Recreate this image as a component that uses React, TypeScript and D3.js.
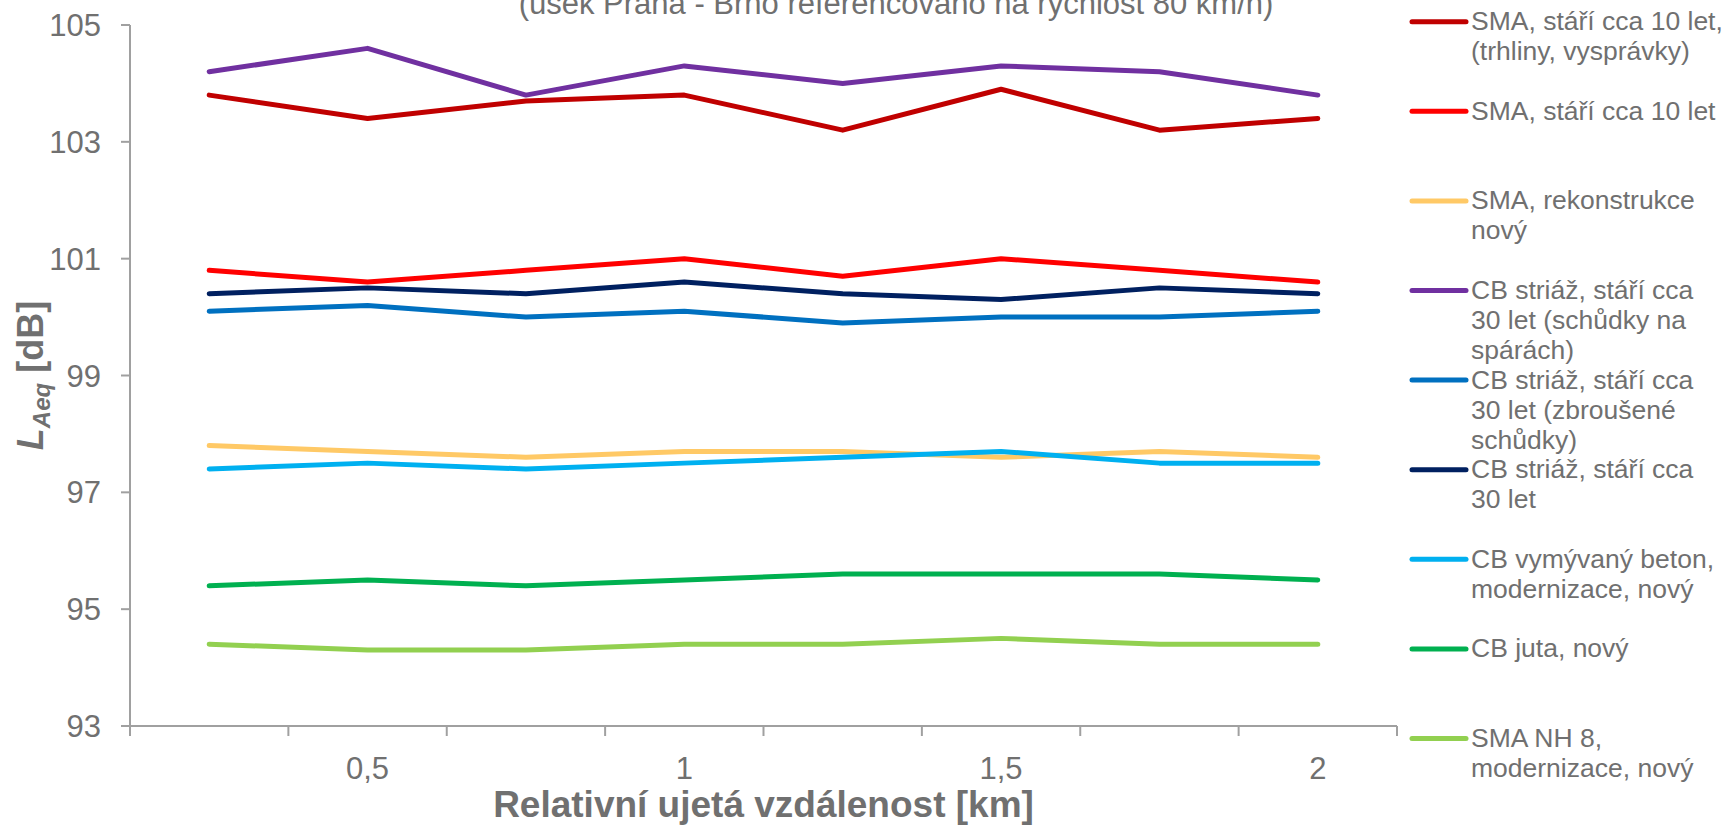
import React from "react";
import * as d3 from "d3";

const categories = ["0,25", "0,5", "0,75", "1", "1,25", "1,5", "1,75", "2"];
const shownLabels = ["0,5", "1", "1,5", "2"];
const yTicks = [93, 95, 97, 99, 101, 103, 105];

const seriesNames: string[][] = [
  ["SMA, stáří cca 10 let,", "(trhliny, vysprávky)"],
  ["SMA, stáří cca 10 let"],
  ["SMA, rekonstrukce", "nový"],
  ["CB striáž, stáří cca", "30 let (schůdky na", "spárách)"],
  ["CB striáž, stáří cca", "30 let (zbroušené", "schůdky)"],
  ["CB striáž, stáří cca", "30 let"],
  ["CB vymývaný beton,", "modernizace, nový"],
  ["CB juta, nový"],
  ["SMA NH 8,", "modernizace, nový"],
];

const seriesColors = [
  "#C00000",
  "#FF0000",
  "#FFC966",
  "#7030A0",
  "#0070C0",
  "#002060",
  "#00B0F0",
  "#00B050",
  "#92D050",
];

const smaOld = [103.8, 103.4, 103.7, 103.8, 103.2, 103.9, 103.2, 103.4];
const smaTen = [100.8, 100.6, 100.8, 101.0, 100.7, 101.0, 100.8, 100.6];
const smaRecon = [97.8, 97.7, 97.6, 97.7, 97.7, 97.6, 97.7, 97.6];
const cbSchudky = [104.2, 104.6, 103.8, 104.3, 104.0, 104.3, 104.2, 103.8];
const cbZbrousene = [100.1, 100.2, 100.0, 100.1, 99.9, 100.0, 100.0, 100.1];
const cbThirty = [100.4, 100.5, 100.4, 100.6, 100.4, 100.3, 100.5, 100.4];
const cbVymyvany = [97.4, 97.5, 97.4, 97.5, 97.6, 97.7, 97.5, 97.5];
const cbJuta = [95.4, 95.5, 95.4, 95.5, 95.6, 95.6, 95.6, 95.5];
const smaNH8 = [94.4, 94.3, 94.3, 94.4, 94.4, 94.5, 94.4, 94.4];

const seriesValues = [smaOld, smaTen, smaRecon, cbSchudky, cbZbrousene, cbThirty, cbVymyvany, cbJuta, smaNH8];

const W = 1724;
const H = 826;
const left = 130;
const right = 1397;
const top = 25;
const bottom = 726;
const textColor = "#707070";
const axisColor = "#A0A0A0";
const font = "'Liberation Sans', Arial, Helvetica, sans-serif";

export default function App() {
  const x = d3.scaleBand<string>().domain(categories).range([left, right]).padding(0);
  const bw = x.bandwidth();
  const cx = (c: string) => (x(c) as number) + bw / 2;
  const y = d3.scaleLinear().domain([93, 105]).range([bottom, top]);

  const line = d3
    .line<number>()
    .x((_, i) => cx(categories[i]))
    .y((v) => y(v));

  const edges = categories.map((c) => x(c) as number).concat([right]);

  const legendX1 = 1412;
  const legendX2 = 1466;
  const legendTextX = 1471;
  const legendY0 = 21.7;
  const legendStep = 89.6;

  return (
    <svg
      width={W}
      height={H}
      style={{ position: "absolute", left: 0, top: 0, background: "#fff" }}
      fontFamily={font}
    >
      {/* title (partially cut, as in the reference) */}
      <text x={896} y={14} textAnchor="middle" fontSize={31} fill={textColor}>
        (úsek Praha - Brno referencováno na rychlost 80 km/h)
      </text>

      {/* y axis */}
      <line x1={left} x2={left} y1={top} y2={bottom} stroke={axisColor} strokeWidth={2} />
      {yTicks.map((t) => (
        <g key={t}>
          <line x1={left - 9} x2={left} y1={y(t)} y2={y(t)} stroke={axisColor} strokeWidth={2} />
          <text x={101} y={y(t) + 11} textAnchor="end" fontSize={31} fill={textColor}>
            {t}
          </text>
        </g>
      ))}

      {/* x axis */}
      <line x1={left} x2={right} y1={bottom} y2={bottom} stroke={axisColor} strokeWidth={2} />
      {edges.map((e, i) => (
        <line key={i} x1={e} x2={e} y1={bottom} y2={bottom + 10} stroke={axisColor} strokeWidth={2} />
      ))}
      {categories
        .filter((c) => shownLabels.includes(c))
        .map((c) => (
          <text key={c} x={cx(c)} y={779} textAnchor="middle" fontSize={31} fill={textColor}>
            {c}
          </text>
        ))}

      {/* axis titles */}
      <text x={(left + right) / 2} y={817} textAnchor="middle" fontSize={37} fontWeight="bold" fill={textColor}>
        Relativní ujetá vzdálenost [km]
      </text>
      <text
        transform={`translate(43, ${(top + bottom) / 2}) rotate(-90)`}
        textAnchor="middle"
        fontSize={36}
        fontWeight="bold"
        fill={textColor}
      >
        <tspan fontStyle="italic">L</tspan>
        <tspan fontStyle="italic" fontSize={24} dy={7}>
          Aeq
        </tspan>
        <tspan dy={-7}> [dB]</tspan>
      </text>

      {/* series */}
      {seriesValues.map((vals, i) => (
        <path
          key={i}
          d={line(vals) as string}
          fill="none"
          stroke={seriesColors[i]}
          strokeWidth={5}
          strokeLinejoin="round"
          strokeLinecap="round"
        />
      ))}

      {/* legend */}
      {seriesNames.map((lines, i) => {
        const ly = legendY0 + i * legendStep;
        return (
          <g key={i}>
            <line
              x1={legendX1}
              x2={legendX2}
              y1={ly}
              y2={ly}
              stroke={seriesColors[i]}
              strokeWidth={5}
              strokeLinecap="round"
            />
            <text fontSize={26.5} fill={textColor}>
              {lines.map((l, j) => (
                <tspan key={j} x={legendTextX} y={ly + 8.5 + j * 30}>
                  {l}
                </tspan>
              ))}
            </text>
          </g>
        );
      })}
    </svg>
  );
}
